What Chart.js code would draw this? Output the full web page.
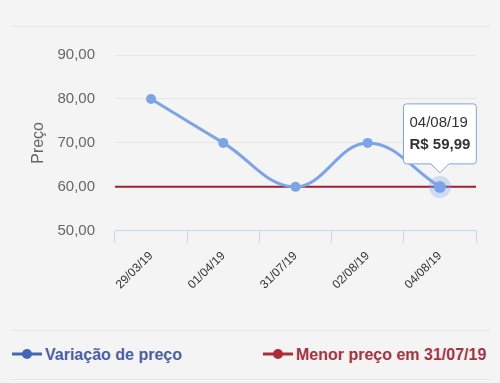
<!DOCTYPE html>
<html>
<head>
<meta charset="utf-8">
<script src="https://cdn.jsdelivr.net/npm/chart.js@4/dist/chart.umd.min.js"></script>
<style>
  html, body { margin: 0; padding: 0; background: #f4f4f4; }
  body { width: 500px; height: 383px; position: relative; overflow: hidden; font-family: "Liberation Sans", Arial, sans-serif; }
  #wrap { position: absolute; left: 0; top: 0; width: 500px; height: 330px; }
  .sep { position: absolute; left: 10px; width: 480px; height: 1px; background: #e8e8e8; }
  #legend { position: absolute; left: 0; top: 331px; width: 500px; height: 48px; }
  .item { position: absolute; top: 14px; font-weight: bold; font-size: 16px; line-height: 20px; white-space: nowrap; }
  .item canvas { vertical-align: middle; margin-right: 3px; position: relative; top: -2px; }
</style>
</head>
<body>
<div class="sep" style="top:26px"></div>
<div id="wrap"><canvas id="c" width="500" height="330"></canvas></div>
<div class="sep" style="top:330px"></div>
<div id="legend"></div>
<div class="sep" style="top:379px"></div>
<script>
const categories = ['29/03/19', '01/04/19', '31/07/19', '02/08/19', '04/08/19'];
const prices = [80, 70, 60, 70, 59.99];
const lowestPrice = 60;
const yTicks = [50, 60, 70, 80, 90];
const seriesNames = ['Variação de preço', 'Menor preço em 31/07/19'];
const activeIndex = 4;

const blue = '#7ca5e8';
const red = '#9a2333';

function fmt(v) { return v.toFixed(2).replace('.', ','); }

const ctx = document.getElementById('c').getContext('2d');
const chart = new Chart(ctx, {
  type: 'line',
  data: {
    labels: categories,
    datasets: [
      {
        label: seriesNames[0],
        data: prices,
        borderColor: blue,
        backgroundColor: blue,
        borderWidth: 3,
        tension: 0.4,
        pointRadius: 5,
        pointBorderWidth: 0,
        pointBackgroundColor: blue,
        pointHoverRadius: 6,
        pointHoverBackgroundColor: blue,
        pointHoverBorderColor: 'rgba(124,165,232,0.3)',
        pointHoverBorderWidth: 10,
        xAxisID: 'x',
        fill: false
      },
      {
        label: seriesNames[1],
        data: [{x: 0, y: lowestPrice}, {x: 1, y: lowestPrice}],
        borderColor: red,
        backgroundColor: red,
        borderWidth: 2,
        pointRadius: 0,
        pointHoverRadius: 0,
        xAxisID: 'x2',
        fill: false
      }
    ]
  },
  options: {
    responsive: false,
    animation: false,
    events: [],
    layout: { padding: { left: 22, right: 24, top: 55, bottom: 32 } },
    plugins: {
      legend: { display: false },
      tooltip: {
        enabled: true,
        filter: (item) => item.datasetIndex === 0,
        backgroundColor: '#ffffff',
        borderColor: blue,
        borderWidth: 1,
        cornerRadius: 3,
        titleColor: '#333333',
        bodyColor: '#333333',
        titleFont: { family: 'Liberation Sans', size: 15, weight: 'normal' },
        bodyFont: { family: 'Liberation Sans', size: 15, weight: 'bold' },
        titleMarginBottom: 4,
        padding: { left: 6, right: 6, top: 10, bottom: 10 },
        caretSize: 9,
        caretPadding: 14,
        displayColors: false,
        yAlign: 'bottom',
        callbacks: {
          title: (items) => items[0].label,
          label: (item) => 'R$ ' + fmt(item.parsed.y)
        }
      }
    },
    scales: {
      x: {
        type: 'category',
        offset: true,
        grid: {
          offset: true,
          drawOnChartArea: false,
          drawTicks: true,
          tickLength: 12,
          color: '#ccd6eb',
          tickColor: '#ccd6eb'
        },
        border: { display: true, color: '#ccd6eb', width: 1 },
        ticks: {
          maxRotation: 45,
          minRotation: 45,
          padding: 6,
          color: '#333333',
          font: { family: 'Liberation Sans', size: 12 }
        }
      },
      x2: {
        type: 'linear',
        display: false,
        min: 0,
        max: 1
      },
      y: {
        min: 50,
        max: 90,
        afterBuildTicks: (axis) => { axis.ticks = yTicks.map(v => ({ value: v })); },
        afterFit: (axis) => { axis.width = 93; },
        grid: { color: '#e6e6e6', drawTicks: false, lineWidth: 1 },
        border: { display: false },
        ticks: {
          padding: 20,
          color: '#666666',
          font: { family: 'Liberation Sans', size: 15 },
          callback: (v) => fmt(v)
        },
        title: {
          display: true,
          text: 'Preço',
          color: '#666666',
          font: { family: 'Liberation Sans', size: 16 },
          padding: { top: 7, bottom: 0 }
        }
      }
    }
  }
});

const active = [{ datasetIndex: 0, index: activeIndex }];
chart.setActiveElements(active);
chart.tooltip.setActiveElements(active, { x: 0, y: 0 });
chart.update();

// HTML legend built from the chart's datasets
const legendColors = [
  { line: '#4466b8', text: '#4a5ea6' },
  { line: '#b02a3a', text: '#a8323f' }
];
const legendLeft = [12, 263];
const legend = document.getElementById('legend');
chart.data.datasets.forEach((ds, i) => {
  const div = document.createElement('div');
  div.className = 'item';
  div.style.left = legendLeft[i] + 'px';
  div.style.color = legendColors[i].text;
  const ic = document.createElement('canvas');
  ic.width = 30; ic.height = 12;
  const g = ic.getContext('2d');
  g.strokeStyle = legendColors[i].line; g.lineWidth = 3;
  g.beginPath(); g.moveTo(0, 6); g.lineTo(30, 6); g.stroke();
  g.fillStyle = legendColors[i].line;
  g.beginPath(); g.arc(15, 6, 5, 0, Math.PI * 2); g.fill();
  div.appendChild(ic);
  div.appendChild(document.createTextNode(ds.label));
  legend.appendChild(div);
});
</script>
</body>
</html>
